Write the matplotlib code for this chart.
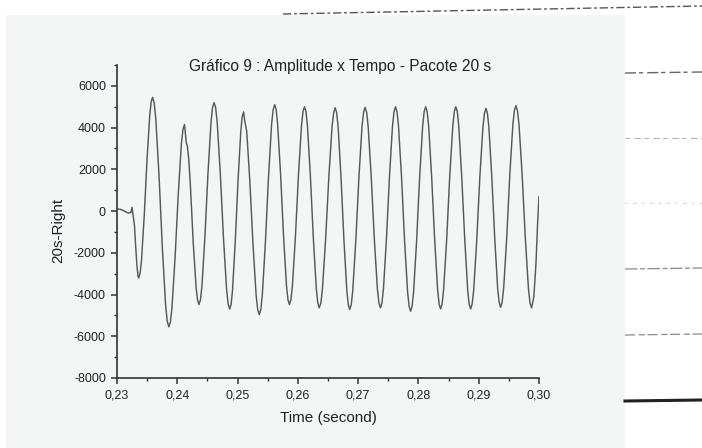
import matplotlib
matplotlib.use("Agg")
import matplotlib.pyplot as plt
from matplotlib.patches import Rectangle
from matplotlib.lines import Line2D
from matplotlib.ticker import MultipleLocator, FuncFormatter

plt.rcParams['font.family'] = ['Liberation Sans', 'DejaVu Sans']

# Recorded signal: time (s) and amplitude of the "20s-Right" channel
time_s = [
    0.2300, 0.2305, 0.2311, 0.2316, 0.2319, 0.2323, 0.2325, 0.2326, 0.2329, 0.2331,
    0.2333, 0.2335, 0.2336, 0.23406, 0.23452, 0.23498, 0.23544, 0.2359, 0.23644, 0.23698,
    0.23752, 0.23806, 0.2386, 0.23912, 0.23964, 0.24016, 0.24068, 0.2412, 0.24135, 0.2415,
    0.24165, 0.2419, 0.24216, 0.24264, 0.24312, 0.2436, 0.2441, 0.2446, 0.2451, 0.2456,
    0.2461, 0.24662, 0.24714, 0.24766, 0.24818, 0.2487, 0.24916, 0.24962, 0.25008, 0.25054,
    0.2510, 0.2512, 0.25152, 0.25204, 0.25256, 0.25308, 0.2536, 0.25411, 0.25462, 0.25513,
    0.25564, 0.25615, 0.25664, 0.25713, 0.25762, 0.25811, 0.2586, 0.2591, 0.2596, 0.2601,
    0.2606, 0.2611, 0.26159, 0.26208, 0.26257, 0.26306, 0.26355, 0.26408, 0.26461, 0.26514,
    0.26567, 0.2662, 0.26668, 0.26716, 0.26764, 0.26812, 0.2686, 0.26911, 0.26962, 0.27013,
    0.27064, 0.27115, 0.27166, 0.27217, 0.27268, 0.27319, 0.2737, 0.2742, 0.2747, 0.2752,
    0.2757, 0.2762, 0.2767, 0.2772, 0.2777, 0.2782, 0.2787, 0.2792, 0.2797, 0.2802,
    0.2807, 0.2812, 0.2817, 0.28219, 0.28269, 0.28318, 0.28368, 0.28418, 0.28469, 0.28519,
    0.2857, 0.2862, 0.28669, 0.28718, 0.28768, 0.28817, 0.28866, 0.28917, 0.28968, 0.29018,
    0.29069, 0.2912, 0.29169, 0.29217, 0.29266, 0.29314, 0.29363, 0.29414, 0.29465, 0.29515,
    0.29566, 0.29617, 0.29669, 0.29721, 0.29773, 0.29825, 0.29877, 0.29915, 0.2995, 0.29975,
    0.3000,
]
amplitude = [
    100, 90, 15, -60, -96, -64, 177, -64, -700, -1700,
    -2600, -3150, -3200, -2374, -211, 2461, 4624, 5450, 4400, 1650,
    -1750, -4500, -5550, -4624, -2199, 799, 3224, 4150, 3700, 3250,
    3150, 2500, 1300, -1498, -3656, -4480, -3556, -1136, 1856, 4276,
    5200, 4255, 1780, -1280, -3755, -4700, -3798, -1435, 1485, 3848,
    4750, 4300, 3823, 1395, -1605, -4033, -4960, -3999, -1484, 1624,
    4139, 5100, 4185, 1790, -1170, -3565, -4480, -3575, -1205, 1725,
    4095, 5000, 4079, 1669, -1309, -3719, -4640, -3724, -1327, 1637,
    4034, 4950, 4027, 1609, -1379, -3797, -4720, -3795, -1372, 1622,
    4045, 4970, 4052, 1650, -1320, -3722, -4640, -3719, -1309, 1669,
    4079, 5000, 4064, 1614, -1414, -3864, -4800, -3864, -1414, 1614,
    4064, 5000, 4075, 1652, -1342, -3765, -4690, -3765, -1342, 1652,
    4075, 5000, 4075, 1652, -1342, -3765, -4690, -3772, -1370, 1600,
    4002, 4920, 4010, 1627, -1317, -3700, -4610, -3687, -1272, 1712,
    4127, 5050, 4125, 1702, -1292, -3715, -4640, -4100, -2500, -700,
    700,
]

# extra readings taken close to each crest and trough
time_near_peaks = [
    0.23383, 0.23567, 0.23617, 0.23833, 0.23886, 0.24094, 0.24336, 0.24385,
    0.24585, 0.24636, 0.24844, 0.24893, 0.25077, 0.25334, 0.25386, 0.2559,
    0.2564, 0.25836, 0.25885, 0.26085, 0.26135, 0.26331, 0.26382, 0.26594,
    0.26644, 0.26836, 0.26886, 0.2709, 0.27141, 0.27345, 0.27395, 0.27595,
    0.27645, 0.27845, 0.27895, 0.28095, 0.28145, 0.28343, 0.28393, 0.28595,
    0.28645, 0.28841, 0.28891, 0.29095, 0.29144, 0.29339, 0.29388, 0.29592,
    0.29643, 0.29851,
]
amplitude_near_peaks = [
    -2989, 5239, 5181, -5281, -5313, 3913, -4269, -4243,
    4963, 4958, -4458, -4469, 4519, -4723, -4714, 4854,
    4866, -4246, -4248, 4768, 4765, -4405, -4406, 4716,
    4714, -4484, -4484, 4734, 4736, -4406, -4405, 4765,
    4761, -4561, -4561, 4761, 4764, -4454, -4454, 4764,
    4764, -4454, -4456, 4686, 4688, -4378, -4375, 4815,
    4814, -4404,
]

x_ticks = [0.23, 0.24, 0.25, 0.26, 0.27, 0.28, 0.29, 0.30]
y_ticks = [-8000, -6000, -4000, -2000, 0, 2000, 4000, 6000]

title = "Gráfico 9 : Amplitude x Tempo - Pacote 20 s"
x_label = "Time (second)"
y_label = "20s-Right"

# all readings in time order
samples = sorted(zip(time_s + time_near_peaks, amplitude + amplitude_near_peaks))
t_all = [s[0] for s in samples]
a_all = [s[1] for s in samples]

W, H = 702, 448
fig = plt.figure(figsize=(W / 100, H / 100), dpi=100, facecolor="white")

# light grey sheet behind the chart
fig.patches.append(Rectangle((6 / W, 0), (625 - 6) / W, 1 - 15 / H,
                             transform=fig.transFigure, facecolor="#f4f6f6",
                             edgecolor="none", zorder=-2))

# faint ruled lines of the page on the right-hand side
page_lines = [
    ((283, 14), (702, 6), "#555555", 1.0, (0, (6, 2, 2, 2))),
    ((625, 73), (702, 72), "#666666", 1.0, (0, (8, 2, 3, 3))),
    ((625, 138), (702, 138), "#b5b5b5", 0.8, (0, (4, 4, 6, 3))),
    ((625, 203), (702, 203), "#d2d2d2", 0.8, (0, (2, 5, 3, 5))),
    ((625, 269), (702, 268), "#8a8a8a", 0.9, (0, (10, 2, 4, 2))),
    ((625, 335), (702, 334), "#8a8a8a", 0.9, (0, (8, 3, 5, 2))),
    ((625, 401), (702, 400), "#222222", 2.2, "solid"),
]
for (x0, y0), (x1, y1), col, lw, ls in page_lines:
    fig.lines.append(Line2D([x0 / W, x1 / W], [1 - y0 / H, 1 - y1 / H],
                            transform=fig.transFigure, color=col, lw=lw,
                            linestyle=ls, zorder=-1))

left, right, bottom, top = 117 / W, 539 / W, 1 - 378 / H, 1 - 65 / H
ax = fig.add_axes([left, bottom, right - left, top - bottom])
ax.set_zorder(2)
ax.set_facecolor("none")

ax.plot(t_all, a_all, color="#595959", lw=1.05, solid_joinstyle="round")

ax.set_xlim(0.23, 0.30)
ax.set_ylim(-8000, 7000)
ax.set_xticks(x_ticks)
ax.set_yticks(y_ticks)
ax.xaxis.set_minor_locator(MultipleLocator(0.005))
ax.yaxis.set_minor_locator(MultipleLocator(1000))
ax.xaxis.set_major_formatter(FuncFormatter(lambda v, p: f"{v:.2f}".replace(".", ",")))
ax.yaxis.set_major_formatter(FuncFormatter(lambda v, p: f"{int(round(v))}"))

for side in ("top", "right"):
    ax.spines[side].set_visible(False)
for side in ("left", "bottom"):
    ax.spines[side].set_color("#333333")
    ax.spines[side].set_linewidth(1.2)

ax.tick_params(which="major", direction="out", length=4.5, width=1.1,
               color="#333333", labelsize=9, labelcolor="#222222", pad=3.5)
ax.tick_params(which="minor", direction="out", length=2.5, width=1.0, color="#333333")

ax.set_xlabel(x_label, fontsize=11, color="#222222")
ax.set_ylabel(y_label, fontsize=11, color="#222222")
ax.xaxis.set_label_coords(0.5, -0.107)
ax.yaxis.set_label_coords(-0.123, 0.473)

fig.text(340 / W, 1 - 71 / H, title, ha="center", va="baseline",
         fontsize=11.2, color="#222222", zorder=3)

fig.savefig("out.png", dpi=100, facecolor="white")
